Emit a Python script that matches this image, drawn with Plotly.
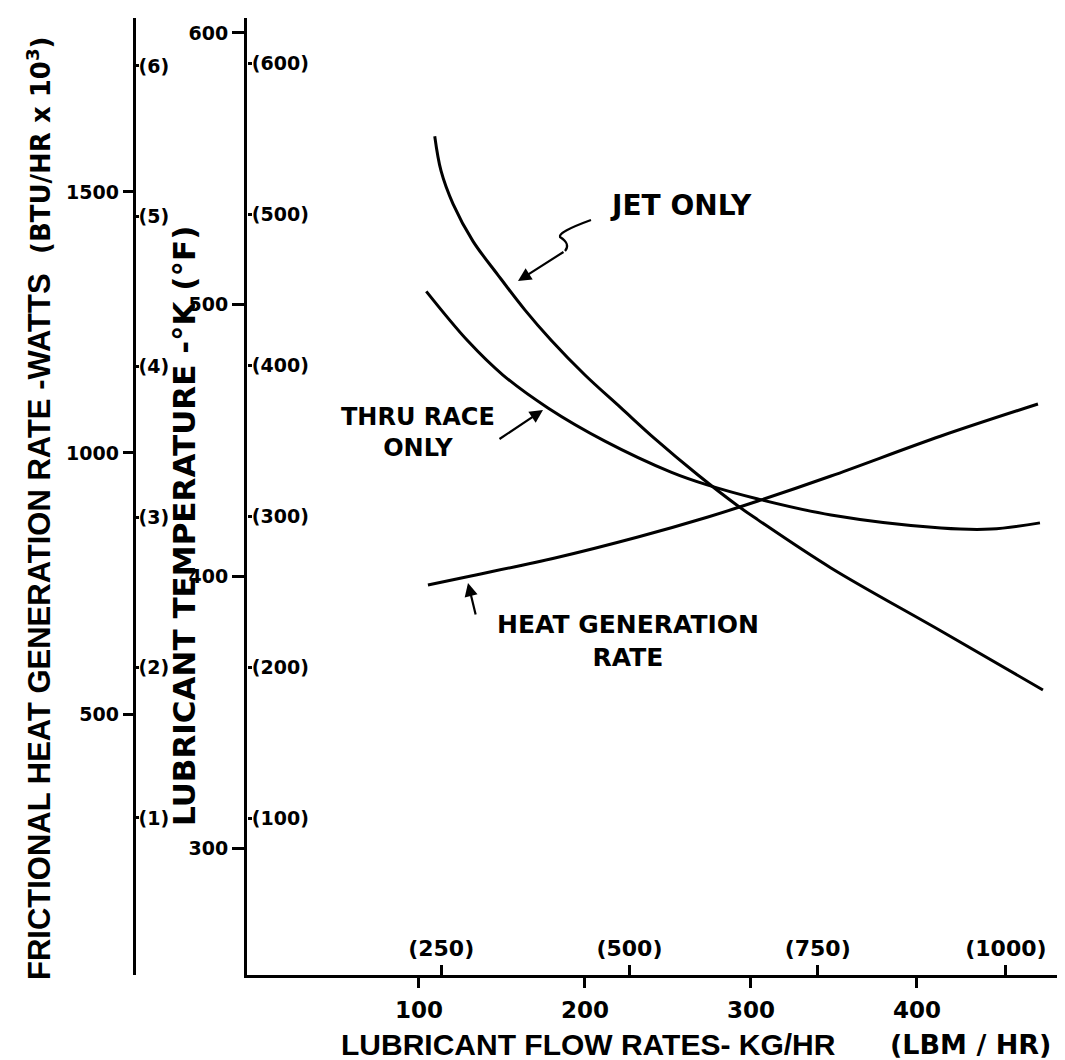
import plotly.graph_objects as go

W, H = 1065, 1060

# ---------------- data ----------------
jet_flow = [109.5, 113.3, 120.5, 132.5, 147.6, 163.9, 179.5, 200.0, 221.7,
            242.2, 268.1, 292.2, 304.2, 348.2, 414.5, 475.9]
jet_temp = [562.0, 549.2, 537.1, 523.4, 510.9, 498.0, 487.0, 474.1, 462.0,
            450.6, 437.3, 425.9, 420.8, 403.1, 379.9, 358.2]

race_flow = [104.4, 129.5, 150.6, 177.7, 212.0, 251.8, 274.1, 304.2, 348.2,
             414.5, 444.6, 474.1]
race_temp = [504.9, 486.6, 474.1, 462.0, 449.8, 438.4, 433.6, 428.5, 422.6,
             417.8, 417.4, 419.7]

heat_flow = [105.4, 131.3, 181.9, 231.9, 274.1, 304.2, 348.2, 414.5, 472.9]
heat_watts = [747.1, 764.4, 798.9, 839.1, 877.4, 908.0, 955.9, 1032.6, 1093.9]

flow_ticks = [100, 200, 300, 400]            # kg/hr
lbm_ticks = [250, 500, 750, 1000]            # lbm/hr
temp_ticks = [300, 400, 500, 600]            # K
degf_ticks = [100, 200, 300, 400, 500, 600]  # F
watt_ticks = [500, 1000, 1500]               # W
btu_ticks = [1, 2, 3, 4, 5, 6]               # BTU/hr x 1e3

KG_PER_LBM = 0.45359237


def k_to_f(k):
    return (k - 273.15) * 9.0 / 5.0 + 32.0


# ---------------- layout geometry ----------------
x_range = [-3.6, 493.4]
t_range = [253.3, 605.5]
w_range = [0, 1833.3]
btu_range = [-0.044, 6.319]

x_dom = [239 / W, 1064 / W]
y_dom = [1 - 967 / H, 1 - 10 / H]
watt_pos = 125.7 / W


def px(x):
    return x / W


def py(y):
    return 1 - y / H


BOLD = "DejaVu Sans"
PLAIN = "Liberation Sans"

fig = go.Figure()

line_style = dict(color="black", width=3, shape="spline", smoothing=1.0)
fig.add_trace(go.Scatter(x=jet_flow, y=jet_temp, mode="lines", line=line_style,
                         xaxis="x", yaxis="y", showlegend=False, name="JET ONLY"))
fig.add_trace(go.Scatter(x=race_flow, y=race_temp, mode="lines", line=line_style,
                         xaxis="x", yaxis="y", showlegend=False, name="THRU RACE ONLY"))
fig.add_trace(go.Scatter(x=heat_flow, y=heat_watts, mode="lines", line=line_style,
                         xaxis="x", yaxis="y2", showlegend=False, name="HEAT GENERATION RATE"))
# empty traces so that the secondary-unit axes are drawn
fig.add_trace(go.Scatter(x=[], y=[], xaxis="x2", yaxis="y3", showlegend=False,
                         hoverinfo="skip"))
fig.add_trace(go.Scatter(x=[], y=[], xaxis="x", yaxis="y4", showlegend=False,
                         hoverinfo="skip"))

common = dict(showgrid=False, zeroline=False, automargin=False, tickcolor="black",
              linecolor="black")

fig.update_layout(
    width=W, height=H,
    margin=dict(l=0, r=0, t=0, b=0),
    paper_bgcolor="white", plot_bgcolor="white",
    showlegend=False,
    xaxis=dict(domain=x_dom, range=x_range, anchor="y", showline=True, linewidth=3,
               ticks="outside", ticklen=10, tickwidth=2.5, tickvals=flow_ticks,
               tickfont=dict(family=BOLD, size=23, color="black", weight="bold"),
               ticklabelstandoff=2, **common),
    xaxis2=dict(overlaying="x", range=x_range, anchor="free", position=y_dom[0],
                side="top", showline=False, ticks="outside", ticklen=10, tickwidth=2.5,
                tickvals=[v * KG_PER_LBM for v in lbm_ticks],
                ticktext=["(%d)" % v for v in lbm_ticks],
                tickfont=dict(family=BOLD, size=22, color="black", weight="bold"),
                **common),
    yaxis=dict(domain=y_dom, range=t_range, anchor="x", showline=True, linewidth=3,
               ticks="outside", ticklen=12, tickwidth=2.5, tickvals=temp_ticks,
               tickfont=dict(family=BOLD, size=19, color="black", weight="bold"),
               ticklabelstandoff=0, **common),
    yaxis2=dict(overlaying="y", range=w_range, anchor="free", position=watt_pos,
                side="left", showline=True, linewidth=3, ticks="outside", ticklen=10,
                tickwidth=2.5, tickvals=watt_ticks,
                tickfont=dict(family=BOLD, size=19, color="black", weight="bold"),
                ticklabelstandoff=0, **common),
    yaxis3=dict(overlaying="y", range=btu_range, anchor="free", position=watt_pos,
                side="right", showline=False, ticks="outside", ticklen=4, tickwidth=2.5,
                tickvals=btu_ticks, ticktext=["(%d)" % v for v in btu_ticks],
                tickfont=dict(family=BOLD, size=19, color="black", weight="bold"),
                ticklabelstandoff=-4, **common),
    yaxis4=dict(overlaying="y", range=[k_to_f(t) for t in t_range], anchor="free",
                position=x_dom[0], side="right", showline=False, ticks="outside",
                ticklen=4, tickwidth=2.5, tickvals=degf_ticks,
                ticktext=["(%d)" % v for v in degf_ticks],
                tickfont=dict(family=BOLD, size=19, color="black", weight="bold"),
                ticklabelstandoff=-4, **common),
)

ann = []


def text_ann(x, y, text, size, family=BOLD, weight="bold", angle=0):
    ann.append(dict(xref="paper", yref="paper", x=px(x), y=py(y), text=text,
                    showarrow=False, xanchor="center", yanchor="middle",
                    textangle=angle, align="center",
                    font=dict(family=family, size=size, color="black", weight=weight)))


def arrow_ann(hx, hy, tx, ty):
    ann.append(dict(xref="paper", yref="paper", x=px(hx), y=py(hy), text="",
                    showarrow=True, ax=tx - hx, ay=ty - hy, arrowhead=2, arrowsize=1.2,
                    arrowwidth=2.2, arrowcolor="black", standoff=0, startstandoff=0))


# axis titles
text_ann(31, 619, "FRICTIONAL HEAT GENERATION RATE -WATTS", 31, family=PLAIN, angle=-90)
text_ann(31, 138, "(BTU/HR x 10<sup>3</sup>)", 26, angle=-90)
text_ann(176, 518, "LUBRICANT TEMPERATURE -°K (°F)", 31, angle=-90)
text_ann(580, 1036, "LUBRICANT FLOW RATES- KG/HR", 30, family=PLAIN)
text_ann(962, 1036, "(LBM / HR)", 27)

# curve labels
text_ann(673, 198, "JET ONLY", 28)
text_ann(410, 425, "THRU RACE<br>ONLY", 24)
text_ann(620, 633, "HEAT GENERATION<br>RATE", 25)

arrow_ann(510, 273, 557, 243)
arrow_ann(535, 402, 490, 432)
arrow_ann(460, 575, 468, 608)

fig.update_layout(annotations=ann)

# squiggle on the JET ONLY leader
sq = "M %f,%f Q %f,%f %f,%f Q %f,%f %f,%f" % (
    px(583), py(212), px(550), py(224), px(552), py(229),
    px(563), py(236), px(557), py(243))
fig.add_shape(type="path", xref="paper", yref="paper", path=sq,
              line=dict(color="black", width=2.2))

fig.write_html("out.html")
